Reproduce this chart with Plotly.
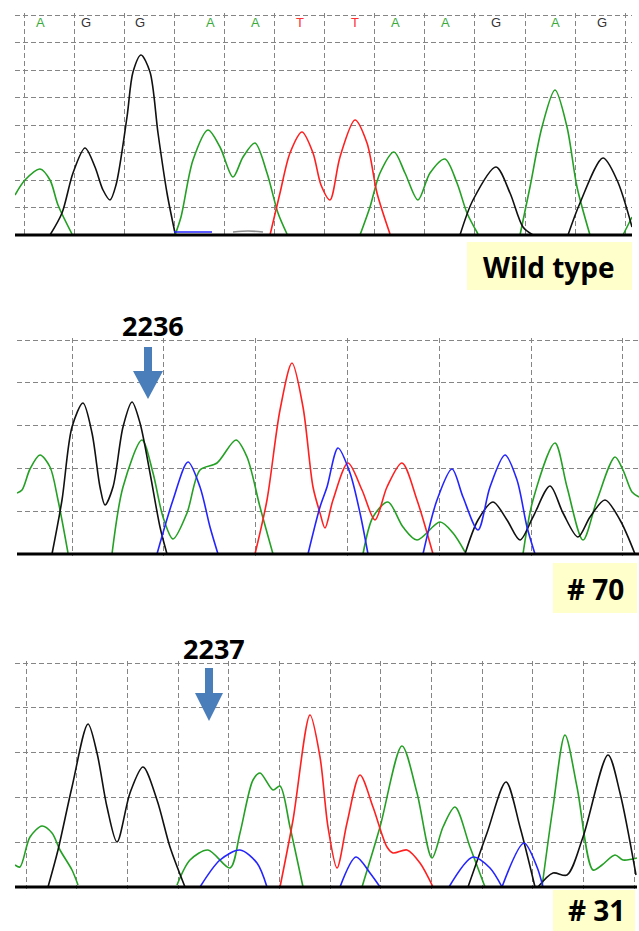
import plotly.graph_objects as go

W, H = 639, 931

# ---------------- data (scan position, signal intensity) ----------------
# Wild type panel
WT_BASES = ["A", "G", "G", "A", "A", "T", "T", "A", "A", "G", "A", "G"]
WT_BASE_POS = [40, 86, 140, 210, 255, 300, 355, 395, 445, 496, 555, 602]
WT_GREEN = [
    [(15, 40), (25, 55), (40, 66), (50, 55), (58, 30), (72, 1)],
    [(175, 0), (181, 18), (193, 75), (208, 105), (220, 88), (233, 58), (243, 78), (255, 92), (267, 62), (278, 22), (287, 1)],
    [(360, 0), (370, 28), (380, 62), (394, 83), (405, 62), (418, 35), (430, 62), (445, 76), (457, 52), (467, 22), (478, 1)],
    [(520, 0), (530, 48), (542, 108), (555, 145), (567, 108), (577, 48), (590, 0)],
    [(623, 0), (632, 18)],
]
WT_BLACK = [
    [(50, 0), (62, 22), (73, 62), (85, 87), (95, 68), (103, 45), (110, 35), (116, 50), (127, 118), (133, 163), (141, 180), (150, 163), (158, 102), (167, 42), (175, 2)],
    [(460, 0), (473, 35), (496, 68), (510, 42), (523, 8), (533, 0)],
    [(568, 0), (580, 32), (603, 77), (617, 55), (632, 8)],
]
WT_RED = [
    [(270, 0), (280, 42), (290, 82), (302, 103), (313, 82), (321, 50), (330, 35), (340, 78), (355, 115), (367, 92), (377, 42), (390, 1)],
]
WT_BLUE = [[(174, 3), (192, 3), (212, 3)]]
WT_GRAY = [[(233, 3), (248, 4), (263, 3)]]

# Clone #70 panel
C70_GREEN = [
    [(17, 61), (22, 64), (30, 85), (40, 99), (50, 87), (58, 54), (68, 1)],
    [(112, 0), (123, 67), (142, 114), (153, 81), (163, 37), (173, 15), (187, 41), (200, 84), (217, 91), (236, 114), (247, 97), (260, 47), (273, 0)],
    [(363, 0), (373, 37), (388, 52), (403, 27), (417, 14), (440, 32), (453, 21), (465, 2)],
    [(523, 0), (533, 54), (555, 111), (567, 67), (583, 14), (597, 54), (615, 97), (623, 84), (632, 62), (639, 57)],
]
C70_BLACK = [
    [(52, 0), (62, 54), (72, 127), (83, 151), (92, 121), (100, 67), (105, 49), (113, 67), (123, 127), (132, 152), (140, 131), (150, 81), (160, 27), (167, 0)],
    [(465, 0), (478, 34), (493, 52), (507, 34), (520, 14), (533, 37), (550, 68), (563, 41), (578, 17), (590, 37), (605, 54), (620, 34), (635, 0)],
]
C70_RED = [
    [(255, 0), (267, 54), (280, 144), (292, 191), (303, 147), (313, 67), (320, 41), (325, 26), (333, 54), (348, 91), (362, 64), (375, 34), (387, 67), (402, 91), (417, 54), (433, 0)],
]
C70_BLUE = [
    [(157, 0), (173, 54), (188, 92), (200, 67), (210, 27), (218, 0)],
    [(308, 0), (320, 47), (327, 67), (338, 106), (350, 81), (360, 41), (368, 0)],
    [(423, 0), (437, 54), (452, 85), (463, 57), (478, 24), (490, 67), (505, 99), (517, 74), (527, 27), (535, 0)],
]

# Clone #31 panel
C31_GREEN = [
    [(15, 22), (20, 20), (30, 50), (42, 61), (52, 54), (60, 37), (72, 17), (78, 2)],
    [(177, 2), (190, 27), (208, 37), (230, 19), (240, 54), (253, 107), (260, 114), (273, 97), (280, 101), (290, 60), (303, 0)],
    [(362, 0), (380, 60), (402, 141), (417, 94), (432, 29), (443, 60), (455, 80), (470, 40), (485, 0)],
    [(542, 0), (553, 80), (565, 152), (577, 100), (593, 17), (602, 22), (615, 32), (623, 27), (637, 29)],
]
C31_BLACK = [
    [(48, 0), (58, 37), (72, 100), (88, 163), (97, 134), (107, 80), (117, 45), (130, 94), (143, 120), (157, 87), (170, 40), (185, 0)],
    [(468, 0), (487, 54), (506, 105), (520, 60), (535, 0)],
    [(538, 0), (553, 14), (567, 12), (583, 50), (608, 132), (620, 94), (636, 12)],
]
C31_RED = [
    [(280, 0), (293, 67), (310, 172), (320, 130), (328, 60), (337, 19), (347, 64), (360, 112), (373, 80), (387, 40), (393, 34), (407, 37), (420, 24), (433, 0)],
]
C31_BLUE = [
    [(200, 0), (220, 27), (240, 37), (257, 24), (267, 0)],
    [(340, 0), (356, 30), (370, 14), (380, 0)],
    [(449, 0), (473, 30), (490, 19), (502, 0)],
    [(502, 0), (524, 44), (537, 20), (543, 0)],
]

PANEL_LABELS = ["Wild type", "# 70", "# 31"]
MUTATION_SITES = ["2236", "2237"]

# ---------------- styling ----------------
COLORS = {"green": "#24a024", "black": "#111111", "red": "#ff2020", "blue": "#2424ff", "gray": "#8c8c8c"}
BASE_COLORS = {"A": "#3aaa3a", "G": "#333333", "T": "#ff3030", "C": "#2424ff"}
GRID = dict(showgrid=True, gridcolor="#858585", gridwidth=1.4, griddash="5px,3px",
            showticklabels=False, ticks="", zeroline=False, showline=False)

def X(px):
    return px / W

def Y(py):
    return 1 - py / H

# panel geometry (pixels): x range, baseline, top grid, grid steps
panels = [
    dict(traces={"green": WT_GREEN, "black": WT_BLACK, "red": WT_RED, "blue": WT_BLUE, "gray": WT_GRAY},
         x0=15, x1=632, base=235, top=15, gx0=24, gdx=50.1, ndiv=8),
    dict(traces={"green": C70_GREEN, "black": C70_BLACK, "red": C70_RED, "blue": C70_BLUE},
         x0=17, x1=639, base=554, top=340, gx0=72, gdx=91.83, ndiv=5),
    dict(traces={"green": C31_GREEN, "black": C31_BLACK, "red": C31_RED, "blue": C31_BLUE},
         x0=15, x1=637, base=887, top=663, gx0=26, gdx=50.67, ndiv=5),
]

fig = go.Figure()
layout = {}
shapes = []
for i, p in enumerate(panels, start=1):
    xa = "x" if i == 1 else f"x{i}"
    ya = "y" if i == 1 else f"y{i}"
    hgt = p["base"] - p["top"]
    for cname, segs in p["traces"].items():
        xs, ys = [], []
        for seg in segs:
            xs += [pt[0] for pt in seg] + [None]
            ys += [pt[1] for pt in seg] + [None]
        fig.add_trace(go.Scatter(x=xs, y=ys, mode="lines", xaxis=xa, yaxis=ya,
                                 line=dict(color=COLORS[cname], width=1.6, shape="spline", smoothing=0.85),
                                 hoverinfo="skip", showlegend=False))
    layout["xaxis" if i == 1 else f"xaxis{i}"] = dict(
        domain=[X(p["x0"]), X(p["x1"])], range=[p["x0"], p["x1"]], anchor=ya,
        tick0=p["gx0"], dtick=p["gdx"], **GRID)
    layout["yaxis" if i == 1 else f"yaxis{i}"] = dict(
        domain=[Y(p["base"] + 2), Y(p["top"] - 2)], range=[-2, hgt + 2], anchor=xa,
        tick0=0, dtick=hgt / p["ndiv"], **GRID)
    # thick baseline
    shapes.append(dict(type="line", xref=xa, yref=ya, x0=p["x0"], x1=p["x1"], y0=0, y1=0,
                       line=dict(color="#000000", width=3), layer="above"))

# label boxes
boxes = [(467, 242, 632, 290), (553, 563, 637, 613), (553, 890, 635, 935)]
label_pos = [(549, 267), (595, 589), (596, 910)]
for (bx0, by0, bx1, by1), txt, (tx, ty) in zip(boxes, PANEL_LABELS, label_pos):
    shapes.append(dict(type="rect", xref="paper", yref="paper", x0=X(bx0), x1=X(bx1), y0=Y(by1), y1=Y(by0),
                       fillcolor="#ffffcc", line=dict(width=0), layer="below"))
    fig.add_annotation(x=X(tx), y=Y(ty), xref="paper", yref="paper", text=f"<b>{txt}</b>", showarrow=False,
                       xanchor="center", yanchor="middle",
                       font=dict(family="Open Sans", size=28, color="#000000"))

# mutation arrows
arrows = [(148, 325, 347, 371, 399, 30), (209, 648, 668, 693, 721, 28)]
ARROW_C = "#4a7ebb"
for (ax, ty, sy0, hy, tip, hw), site in zip(arrows, MUTATION_SITES):
    fig.add_annotation(x=X(ax + 5), y=Y(ty), xref="paper", yref="paper", text=f"<b>{site}</b>", showarrow=False,
                       xanchor="center", yanchor="middle",
                       font=dict(family="Open Sans", size=27, color="#000000"))
    shapes.append(dict(type="rect", xref="paper", yref="paper", x0=X(ax - 4), x1=X(ax + 4), y0=Y(hy + 1), y1=Y(sy0),
                       fillcolor=ARROW_C, line=dict(width=0), layer="above"))
    shapes.append(dict(type="path", xref="paper", yref="paper",
                       path=f"M {X(ax - hw / 2)},{Y(hy)} L {X(ax + hw / 2)},{Y(hy)} L {X(ax)},{Y(tip)} Z",
                       fillcolor=ARROW_C, line=dict(width=0), layer="above"))

# base calls on wild-type trace
for b, xp in zip(WT_BASES, WT_BASE_POS):
    fig.add_annotation(x=xp, y=Y(23), xref="x", yref="paper", text=b, showarrow=False,
                       xanchor="center", yanchor="middle",
                       font=dict(family="Liberation Sans", size=13, color=BASE_COLORS[b]))

fig.update_layout(width=W, height=H, margin=dict(l=0, r=0, t=0, b=0),
                  paper_bgcolor="white", plot_bgcolor="white", shapes=shapes, **layout)

fig.write_html("out.html", config={"displayModeBar": False},
               post_script="document.body.style.margin='0px';document.body.style.overflow='hidden';")
